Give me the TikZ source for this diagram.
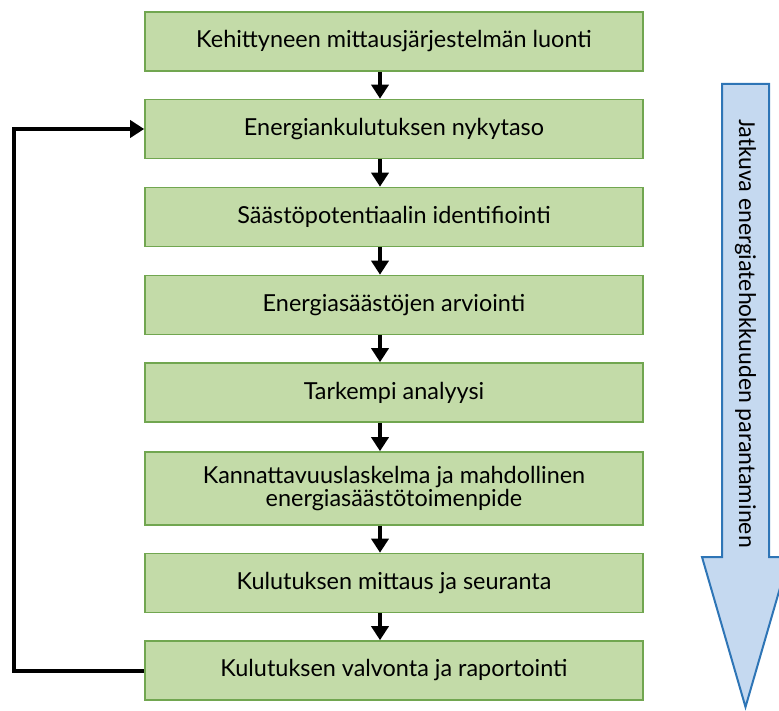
\documentclass[tikz,border=0pt]{standalone}
\usepackage{fontspec}
\setmainfont{Lato}
\newfontfamily\bandfont{Carlito}
\usetikzlibrary{arrows.meta}
\definecolor{stagegreen}{RGB}{195,219,168}
\definecolor{stageedge}{RGB}{113,166,80}
\definecolor{bandblue}{RGB}{197,217,240}
\definecolor{bandedge}{RGB}{46,117,182}

\begin{document}
\begin{tikzpicture}[x=1bp, y=-1bp, >={Triangle[length=14bp,width=17bp]},
    stagebox/.style={draw=stageedge, line width=1.6bp, fill=stagegreen,
        minimum width=498bp, minimum height=59bp, inner sep=0pt,
        align=center, font=\fontsize{23.5}{21}\selectfont},
    flow/.style={->, line width=4bp}]
    \useasboundingbox (0,0) rectangle (779,711);

    % Continuous improvement band
    \draw[bandedge, fill=bandblue, line width=2bp] (722,84) -- (769,84) -- (769,557) -- (789,557)
        -- (745.5,707) -- (702,557) -- (722,557) -- cycle;
    \node[rotate=-90, font=\bandfont\fontsize{24.5}{26}\selectfont] (band) at (745.5,333.5)
        {Jatkuva energiatehokkuuden parantaminen};

    % Stages
    \node[stagebox] (luonti) at (394,41.5) {Kehittyneen mittausjärjestelmän luonti};
    \node[stagebox] (nykytaso) at (394,129) {Energiankulutuksen nykytaso};
    \node[stagebox] (potentiaali) at (394,217) {Säästöpotentiaalin identifiointi};
    \node[stagebox] (arviointi) at (394,305) {Energiasäästöjen arviointi};
    \node[stagebox] (analyysi) at (394,392.5) {Tarkempi analyysi};
    \node[stagebox, minimum height=73bp] (laskelma) at (394,488.5)
        {Kannattavuuslaskelma ja mahdollinen\\energiasäästötoimenpide};
    \node[stagebox] (seuranta) at (394,583) {Kulutuksen mittaus ja seuranta};
    \node[stagebox] (valvonta) at (394,670.5) {Kulutuksen valvonta ja raportointi};

    % Flow between stages (slightly left of centre)
    \foreach \a/\b in {luonti/nykytaso, nykytaso/potentiaali, potentiaali/arviointi,
        arviointi/analyysi, analyysi/laskelma, laskelma/seuranta, seuranta/valvonta}
        \draw[flow] ([xshift=-14bp]\a.south) -- ([xshift=-14bp]\b.north);

    % Feedback loop
    \coordinate (loop) at (14,670.5);
    \draw[flow] (valvonta.west) -- (loop) |- (nykytaso.west);
\end{tikzpicture}
\end{document}
